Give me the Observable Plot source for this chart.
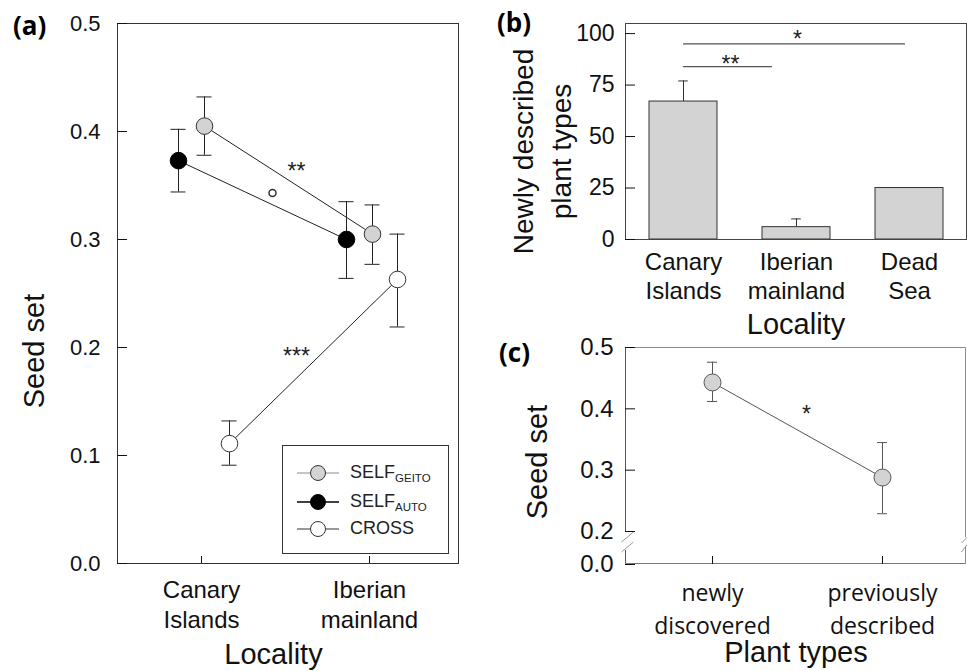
<!DOCTYPE html>
<html>
<head>
<meta charset="utf-8">
<script src="https://cdn.jsdelivr.net/npm/d3@7"></script>
<script src="https://cdn.jsdelivr.net/npm/@observablehq/plot@0.6"></script>
<style>
  body { margin: 0; background: #fff; }
  #root { position: relative; width: 967px; height: 671px; overflow: hidden; font-family: "Liberation Sans", Arial, sans-serif; color: #111; }
  .panel { position: absolute; }
  .letter { position: absolute; font-family: "Open Sans", sans-serif; font-weight: 700; font-size: 26px; line-height: 1; color: #000; }
  .legend { position: absolute; border: 1px solid #333; box-sizing: border-box; background: #fff; }
  .legrow { position: absolute; left: 0; height: 22px; display: flex; align-items: center; }
  .legtext { position: absolute; font-size: 18px; color: #222; white-space: nowrap; }
  .legtext sub { font-size: 11.5px; vertical-align: -4px; }
</style>
</head>
<body>
<div id="root"></div>
<script>
// ---------- data ----------
// (a) seed set by pollination treatment and locality
const localities = ["Canary Islands", "Iberian mainland"];
const geitoMean = [0.405, 0.305], geitoLo = [0.378, 0.277], geitoHi = [0.432, 0.332];
const autoMean  = [0.373, 0.300], autoLo  = [0.344, 0.264], autoHi  = [0.402, 0.335];
const crossMean = [0.111, 0.263], crossLo = [0.091, 0.219], crossHi = [0.132, 0.305];
const aTicks = [0, 0.1, 0.2, 0.3, 0.4, 0.5];
const aSigLabels = ["**", "***"];
const aSigY = [0.363, 0.192];
const aMarginalY = [0.343];

// (b) newly described plant types by locality
const regions = ["Canary Islands", "Iberian mainland", "Dead Sea"];
const newTypes = [67, 6, 25];
const newTypesErr = [77, 10, null];
const bTicks = [0, 25, 50, 75, 100];
const bSigFrom = ["Canary Islands", "Canary Islands"];
const bSigTo = ["Iberian mainland", "Dead Sea"];
const bSigLineY = [84, 95];
const bSigLabels = ["**", "*"];
const bSigLabelY = [85, 97.2];

// (c) seed set by plant type
const plantTypes = ["newly discovered", "previously described"];
const cMean = [0.443, 0.288], cLo = [0.412, 0.229], cHi = [0.476, 0.345];
const cTicks = [0, 0.2, 0.3, 0.4, 0.5];
const cBreak = [0.085, 0.2];
const cSigLabels = ["*"];
const cSigY = [0.39];

// ---------- helpers ----------
const FONT = "'Liberation Sans', Arial, sans-serif";
const root = document.getElementById("root");
const brk = s => s.replace(" ", "\n");
function place(el, left, top) {
  const d = document.createElement("div");
  d.className = "panel";
  d.style.left = left + "px";
  d.style.top = top + "px";
  d.appendChild(el);
  root.appendChild(d);
}
const svgStyle = {fontFamily: FONT, background: "transparent", overflow: "visible", color: "#111"};
// horizontal error-bar cap on a point scale
const cap = (rows, x, y, half, extra) =>
  Plot.ruleY(rows, {x1: x, x2: x, y, insetLeft: -half, insetRight: -half, ...extra});
const title = (t, opts) => Plot.text([t], {text: d => d, textAnchor: "middle", lineAnchor: "middle", fontSize: 29, ...opts});

// ---------- panel (a) ----------
const aSeries = [
  {name: "SELF", sub: "AUTO",  mean: autoMean,  lo: autoLo,  hi: autoHi},
  {name: "SELF", sub: "GEITO", mean: geitoMean, lo: geitoLo, hi: geitoHi},
  {name: "CROSS", sub: "",     mean: crossMean, lo: crossLo, hi: crossHi}
];
const aStyle = {
  AUTO:  {fill: "#000",    stroke: "#000", dx: -23, leg: "#000", legW: 1.6},
  GEITO: {fill: "#d3d3d3", stroke: "#333", dx: 3,   leg: "#8a8a8a", legW: 1},
  "":    {fill: "#fff",    stroke: "#333", dx: 28,  leg: "#333", legW: 1.2}
};
const aMarks = [Plot.frame({stroke: "#333"})];
const aDots = [];
for (const s of aSeries) {
  const st = aStyle[s.sub];
  const rows = localities.map((loc, i) => ({loc, mean: s.mean[i], lo: s.lo[i], hi: s.hi[i]}));
  aMarks.push(
    Plot.ruleX(rows, {x: "loc", y1: "lo", y2: "hi", dx: st.dx, stroke: "#222"}),
    cap(rows, "loc", "lo", 7.5, {dx: st.dx, stroke: "#222"}),
    cap(rows, "loc", "hi", 7.5, {dx: st.dx, stroke: "#222"}),
    Plot.line(rows, {x: "loc", y: "mean", dx: st.dx, stroke: "#222", strokeWidth: 1})
  );
  aDots.push(Plot.dot(rows, {x: "loc", y: "mean", dx: st.dx, r: 8.3, fill: st.fill, stroke: st.stroke, strokeWidth: 1}));
}
aMarks.push(...aDots);
aMarks.push(
  Plot.text(aSigLabels.map((t, i) => ({t, y: aSigY[i], loc: localities[0]})),
    {x: "loc", y: "y", text: "t", dx: 95, fontSize: 23, fill: "#222"}),
  Plot.dot(aMarginalY.map(y => ({y, loc: localities[0]})),
    {x: "loc", y: "y", dx: 71, r: 3.5, fill: "#fff", stroke: "#333", strokeWidth: 1.5}),
  Plot.axisY(aTicks, {tickSize: -10, tickPadding: 27, tickFormat: d3.format(".1f"), fontSize: 22, color: "#111", label: null}),
  Plot.axisX(localities, {tickSize: -7, tickPadding: 20, tickFormat: brk, fontSize: 24, lineHeight: 1.25, color: "#111", label: null}),
  title("Seed set", {frameAnchor: "left", rotate: -90, dx: 34 - 117, dy: 350.5 - 293}),
  title("Locality", {frameAnchor: "bottom", dx: 273 - 287.5, dy: 91})
);
const plotA = Plot.plot({
  width: 480, height: 671,
  marginLeft: 117, marginRight: 22, marginTop: 23, marginBottom: 108,
  x: {type: "point", domain: localities, range: [201, 369], padding: 0},
  y: {type: "linear", domain: [0, 0.5]},
  style: svgStyle,
  marks: aMarks
});
place(plotA, 0, 0);

// legend for (a)
const legend = document.createElement("div");
legend.className = "legend";
Object.assign(legend.style, {left: "282px", top: "445px", width: "167px", height: "109px"});
const legOrder = [aSeries[1], aSeries[0], aSeries[2]];
const legRowY = [27.7, 56.7, 84.3];
legOrder.forEach((s, i) => {
  const st = aStyle[s.sub];
  const row = document.createElement("div");
  row.className = "legrow";
  row.style.top = (legRowY[i] - 1 - 11) + "px";
  row.style.left = "13px";
  const svg = d3.create("svg").attr("width", 44).attr("height", 22);
  svg.append("line").attr("x1", 1).attr("x2", 43).attr("y1", 11).attr("y2", 11)
    .attr("stroke", st.leg).attr("stroke-width", st.legW);
  svg.append("circle").attr("cx", 22).attr("cy", 11).attr("r", 7.5)
    .attr("fill", st.fill).attr("stroke", st.stroke);
  row.appendChild(svg.node());
  legend.appendChild(row);
  const txt = document.createElement("div");
  txt.className = "legtext";
  txt.style.left = "67px";
  txt.style.top = (legRowY[i] - 1 - 11) + "px";
  txt.innerHTML = s.name + (s.sub ? "<sub>" + s.sub + "</sub>" : "");
  legend.appendChild(txt);
});
root.appendChild(legend);

// ---------- panel (b) ----------
const bRows = regions.map((r, i) => ({region: r, n: newTypes[i], err: newTypesErr[i]}));
const bErr = bRows.filter(d => d.err != null);
const bSig = bSigFrom.map((f, i) => ({from: f, to: bSigTo[i], y: bSigLineY[i]}));
const plotB = Plot.plot({
  width: 487, height: 330,
  marginLeft: 145, marginRight: 1, marginTop: 23, marginBottom: 91,
  x: {type: "band", domain: regions, paddingInner: 0.4, paddingOuter: 0.2},
  y: {type: "linear", domain: [0, 104.9]},
  style: svgStyle,
  marks: [
    Plot.ruleX(bErr, {x: "region", y1: "n", y2: "err", stroke: "#333"}),
    Plot.tickY(bErr, {x: "region", y: "err", insetLeft: 29.2, insetRight: 29.2, stroke: "#333"}),
    Plot.barY(bRows, {x: "region", y: "n", fill: "#d3d3d3", stroke: "#333", strokeWidth: 1}),
    Plot.arrow([bSig[0]], {x1: "from", x2: "to", y1: "y", y2: "y", headLength: 0, insetEnd: 25, stroke: "#555", strokeWidth: 1.2}),
    Plot.arrow([bSig[1]], {x1: "from", x2: "to", y1: "y", y2: "y", headLength: 0, insetEnd: 5, stroke: "#555", strokeWidth: 1.2}),
    Plot.text([{t: bSigLabels[0], y: bSigLabelY[0], r: regions[0]}], {x: "r", y: "y", text: "t", dx: 47, fontSize: 23, fill: "#222"}),
    Plot.text([{t: bSigLabels[1], y: bSigLabelY[1], r: regions[1]}], {x: "r", y: "y", text: "t", dx: 1, fontSize: 23, fill: "#222"}),
    Plot.frame({stroke: "#444"}),
    Plot.axisY(bTicks, {tickSize: -10, tickPadding: 21, fontSize: 23, color: "#111", label: null}),
    Plot.axisX(regions, {tickSize: 0, tickPadding: 10.7, tickFormat: brk, fontSize: 24, lineHeight: 1.18, color: "#111", label: null}),
    title("Newly described\nplant types", {frameAnchor: "left", rotate: -90, dx: 539 - 625, dy: 20, fontSize: 28, lineHeight: 1.36}),
    title("Locality", {frameAnchor: "bottom", dy: 85})
  ]
});
place(plotB, 480, 0);

// ---------- panel (c) ----------
const cRows = plantTypes.map((t, i) => ({type: t, mean: cMean[i], lo: cLo[i], hi: cHi[i]}));
function brokenFrame(index, scales, values, dims) {
  const {width, height, marginLeft, marginRight, marginTop, marginBottom} = dims;
  const L = marginLeft + 0.5, R = width - marginRight - 0.5, T = marginTop + 0.5, B = height - marginBottom - 0.5;
  const yA = scales.y(cBreak[1]), yB = scales.y(cBreak[0]);
  const g = d3.create("svg:g").attr("fill", "none");
  g.append("path").attr("stroke", "#8a8a8a").attr("d", `M${L},${T}H${R}V${yA + 6}M${R},${yB - 3}V${B}`);
  g.append("path").attr("stroke", "#777").attr("d", `M${L},${B}H${R}`);
  g.append("path").attr("stroke", "#555").attr("d", `M${L},${T}V${yA}M${L},${yB}V${B}`);
  const sl = (x, y, w, h) => `M${x - w},${y + h}L${x + w},${y - h}`;
  g.append("path").attr("stroke", "#999").attr("stroke-width", 1)
    .attr("d", sl(L + 2, yA + 6, 6, 5) + sl(L + 2, yB - 3, 6, 5) + sl(R - 1, yA + 9, 3, 3) + sl(R - 1, yB - 2, 3, 4));
  return g.node();
}
const plotC = Plot.plot({
  width: 487, height: 341,
  marginLeft: 145, marginRight: 1, marginTop: 17, marginBottom: 107,
  x: {type: "point", domain: plantTypes, range: [232, 402], padding: 0},
  y: {type: "linear", domain: [0, 0.2, 0.5], range: [234, 201, 17]},
  style: svgStyle,
  marks: [
    brokenFrame,
    Plot.ruleX(cRows, {x: "type", y1: "lo", y2: "hi", stroke: "#555"}),
    cap(cRows, "type", "lo", 5, {stroke: "#555"}),
    cap(cRows, "type", "hi", 5, {stroke: "#555"}),
    Plot.line(cRows, {x: "type", y: "mean", stroke: "#555", strokeWidth: 1}),
    Plot.dot(cRows, {x: "type", y: "mean", r: 8.5, fill: "#d3d3d3", stroke: "#555", strokeWidth: 1}),
    Plot.text(cSigLabels.map((t, i) => ({t, y: cSigY[i], p: plantTypes[0]})), {x: "p", y: "y", text: "t", dx: 94, fontSize: 23, fill: "#222"}),
    Plot.axisY(cTicks, {tickSize: -10, tickPadding: 22, tickFormat: d3.format(".1f"), fontSize: 24, color: "#111", label: null}),
    Plot.axisX(plantTypes, {tickSize: -8, tickPadding: 21.4, tickFormat: brk, fontFamily: "'Open Sans', sans-serif", fontSize: 23, lineHeight: 1.42, color: "#111", label: null}),
    title("Seed set", {frameAnchor: "left", rotate: -90, dx: -87.6, dy: 6}),
    title("Plant types", {frameAnchor: "bottom", dy: 88})
  ]
});
place(plotC, 480, 330);

// ---------- panel letters ----------
[["(a)", 13, 12], ["(b)", 497, 9], ["(c)", 499, 339]].forEach(([t, x, y]) => {
  const d = document.createElement("div");
  d.className = "letter";
  d.textContent = t;
  d.style.left = x + "px";
  d.style.top = y + "px";
  root.appendChild(d);
});
</script>
</body>
</html>
